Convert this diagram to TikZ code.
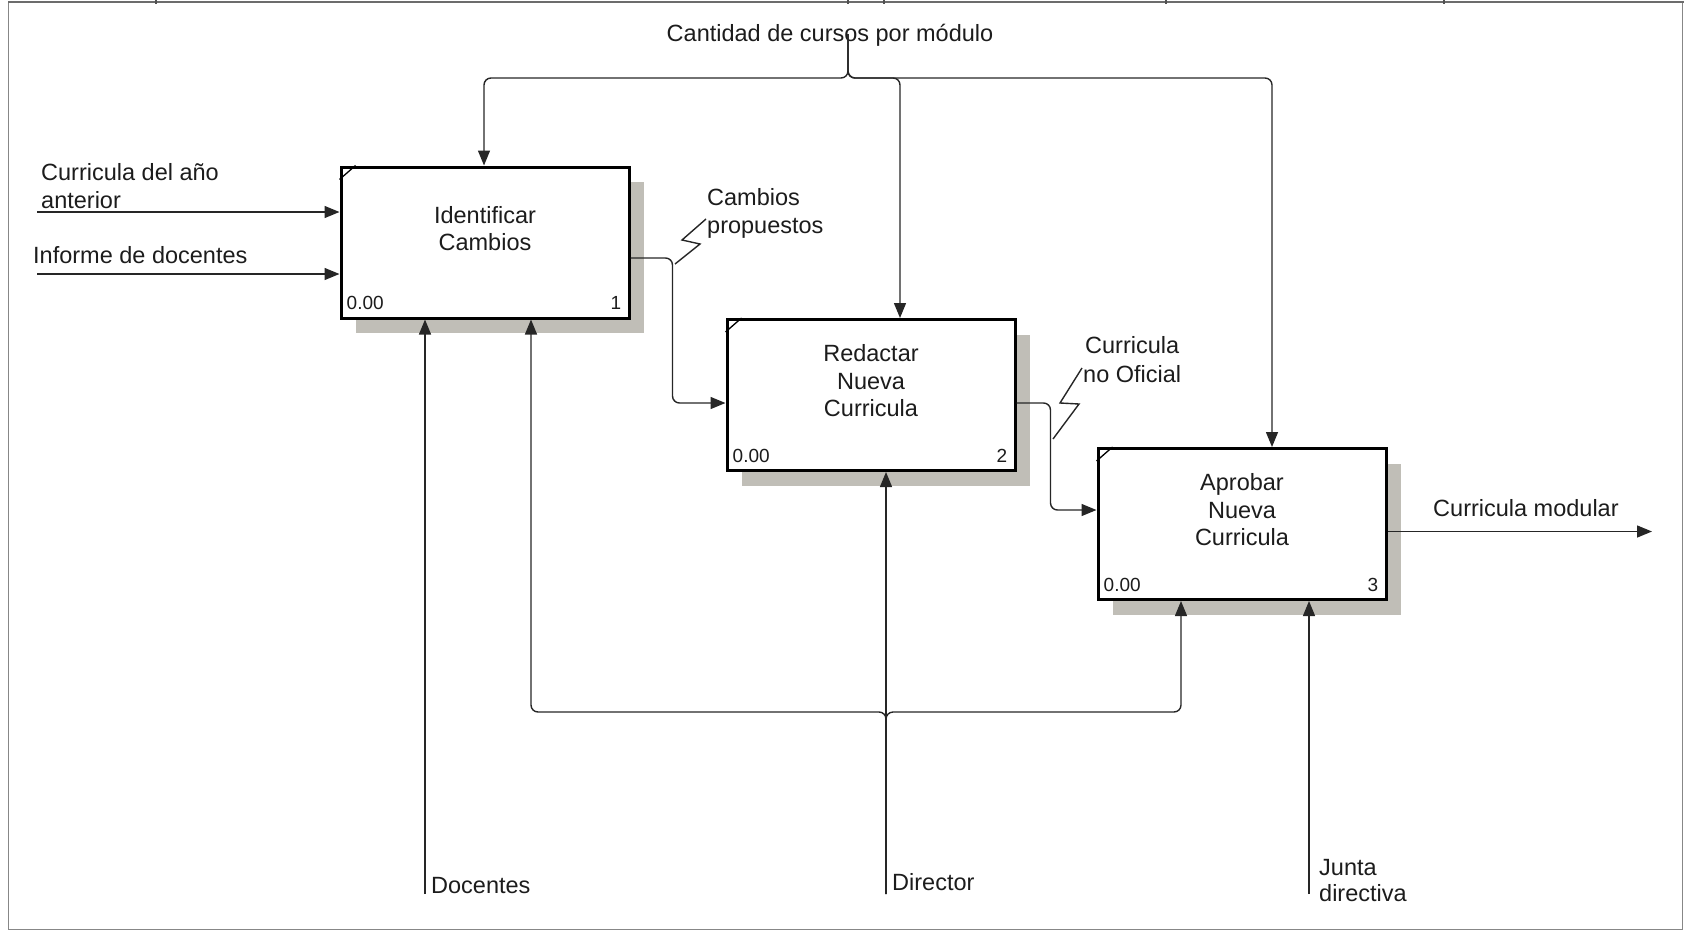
\documentclass[tikz,border=0pt]{standalone}
\usepackage{fontspec}
\setmainfont{Liberation Sans}
\usetikzlibrary{arrows.meta,calc,shadows}
\definecolor{shadowgrey}{RGB}{192,190,183}
\definecolor{framegrey}{RGB}{135,135,135}
\definecolor{ink}{RGB}{28,28,28}

\begin{document}
\begin{tikzpicture}[x=1pt,y=-1pt,
  actbox/.style={draw=black,line width=3pt,fill=white,minimum width=288pt,
    minimum height=151pt,inner sep=0pt,
    general shadow={fill=shadowgrey,shadow xshift=15pt,shadow yshift=-15pt}},
  conn/.style={draw=black!85,line width=1.4pt,rounded corners=7pt},
  squiggle/.style={draw=black!85,line width=1.4pt,sharp corners},
  arr/.style={-{Triangle[length=15pt,width=12pt]}},
  lbl/.style={font=\fontsize{23.5}{27.5}\selectfont,text=ink,inner sep=0pt,anchor=base west},
  boxtext/.style={font=\fontsize{23.5}{27.5}\selectfont,text=ink,inner sep=0pt,align=center},
  boxnum/.style={font=\fontsize{19}{22}\selectfont,text=ink,inner sep=0pt},
  corner/.style={draw=black,line width=1.3pt}
]
\useasboundingbox (0,0) rectangle (1684,932);

% page frame with the cut-off header row
\draw[framegrey,line width=1.5pt] (8.5,2) rectangle (1682.5,929.5);
\draw[framegrey!80!black,line width=2.5pt] (8,2) -- (1684,2);
\foreach \x in {156,848,884,1166,1444}
  \draw[framegrey!60!black,line width=1.5pt] (\x,0) -- (\x,4);

% activity boxes
\node[actbox] (b1) at (485,242.5) {};
\node[actbox] (b2) at (871,395) {};
\node[actbox] (b3) at (1242,524) {};

\foreach \b/\n in {b1/1,b2/2,b3/3}{
  \draw[corner] ($(\b.north west)+(0,14)$) -- ($(\b.north west)+(16,0)$);
  \node[boxnum,anchor=base west] (\b-cost) at ($(\b.south west)+(7,-10)$) {0.00};
  \node[boxnum,anchor=base east] (\b-num) at ($(\b.south east)+(-9,-10)$) {\n};
}

\node[boxtext] (t1) at ($(b1.center)+(0,-14)$) {Identificar\\Cambios};
\node[boxtext] (t2) at ($(b2.center)+(0,-14)$) {Redactar\\Nueva\\Curricula};
\node[boxtext] (t3) at ($(b3.center)+(0,-14)$) {Aprobar\\Nueva\\Curricula};

% control from the top
\node[lbl,anchor=base] (ctlbl) at (830,41) {Cantidad de cursos por módulo};
\coordinate (ctl) at (848,34);
\coordinate (bustop) at (848,78);
\draw[conn,arr] (ctl) -- (bustop) -| ($(b1.north)+(-1,0)$);
\draw[conn,arr] (ctl) -- (bustop) -| ($(b2.north)+(29,0)$);
\draw[conn,arr] (ctl) -- (bustop) -| ($(b3.north)+(30,0)$);

% inputs from the left
\coordinate (in1) at (37,212);
\coordinate (in2) at (37,274);
\draw[conn,arr] (in1) -- (in1 -| b1.west);
\draw[conn,arr] (in2) -- (in2 -| b1.west);
\node[lbl] (in1a) at (41,180) {Curricula del año};
\node[lbl] (in1b) at (41,208) {anterior};
\node[lbl] (in2a) at (33,263) {Informe de docentes};

% outputs between activities
\draw[conn,arr] ($(b1.east)+(0,15.5)$) -| ($(b2.west)+(-53,8)$) -- ($(b2.west)+(0,8)$);
\draw[squiggle] (675,264) -- (700,244) -- (682,240) -- (706,219);
\node[lbl] (o1a) at (707,205) {Cambios};
\node[lbl] (o1b) at (707,233) {propuestos};

\draw[conn,arr] ($(b2.east)+(0,8)$) -| ($(b3.west)+(-46,-14)$) -- ($(b3.west)+(0,-14)$);
\draw[squiggle] (1053,439) -- (1079,404) -- (1060,403) -- (1082,368);
\node[lbl] (o2a) at (1085,353) {Curricula};
\node[lbl] (o2b) at (1083,382) {no Oficial};

% final output
\coordinate (out) at (1652,531.5);
\draw[conn,arr] ($(b3.east)+(0,7.5)$) -- (out);
\node[lbl] (o3) at (1433,516) {Curricula modular};

% mechanisms from the bottom
\coordinate (m1) at (425,894);
\coordinate (m2) at (886,894);
\coordinate (m3) at (1309,894);
\coordinate (busb) at (886,712);
\draw[conn,arr] (m1) -- (m1 |- b1.south);
\draw[conn,arr] (m2) -- (m2 |- b2.south);
\draw[conn,arr] (m2) -- (busb) -| ($(b1.south)+(46,0)$);
\draw[conn,arr] (m2) -- (busb) -| ($(b3.south)+(-61,0)$);
\draw[conn,arr] (m3) -- (m3 |- b3.south);
\node[lbl] (m1l) at (431,893) {Docentes};
\node[lbl] (m2l) at (892,890) {Director};
\node[lbl] (m3a) at (1319,875) {Junta};
\node[lbl] (m3b) at (1319,901) {directiva};
\end{tikzpicture}
\end{document}
